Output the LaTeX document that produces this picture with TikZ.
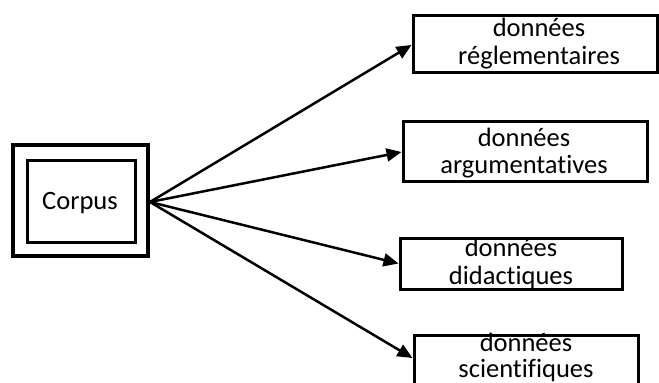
\documentclass[tikz,border=0pt]{standalone}
\usepackage{fontspec}
\setmainfont[Ligatures=NoCommon]{Carlito}
\usetikzlibrary{arrows.meta}
\begin{document}
\begin{tikzpicture}[x=1pt,y=-1pt,
  box/.style={draw=black,line width=3pt,rectangle,inner sep=0pt},
  lbl/.style={anchor=base,inner sep=0pt,font=\fontsize{26.5}{26.5}\selectfont},
  conn/.style={line width=2.5pt,-{Triangle[length=15pt,width=13pt]}}]
\useasboundingbox (0,0) rectangle (659,383);
\clip (0,0) rectangle (659,383);
% Corpus
\node[box,line width=3.5pt,minimum width=135pt,minimum height=111pt] (outer) at (80.5,200.5) {};
\node[box,minimum width=108pt,minimum height=82pt] (inner) at (81,201) {};
\node[lbl] (tc) at (80,209) {Corpus};
% boxes
\node[box,minimum width=244pt,minimum height=57pt] (b1) at (535,43.5) {};
\node[box,minimum width=244pt,minimum height=60pt] (b2) at (525,151) {};
\node[box,minimum width=222pt,minimum height=51pt] (b3) at (511,263.5) {};
\node[box,minimum width=224pt,minimum height=57pt] (b4) at (526,363.5) {};
% labels
\node[lbl] (t1a) at (539,36) {données};
\node[lbl] (t1b) at (539,64) {réglementaires};
\node[lbl] (t2a) at (524,146) {données};
\node[lbl] (t2b) at (524,173) {argumentatives};
\node[lbl] (t3a) at (511,256) {données};
\node[lbl] (t3b) at (511,284) {didactiques};
\node[lbl] (t4a) at (526,351) {données};
\node[lbl] (t4b) at (526,377) {scientifiques};
% arrows
\coordinate (o) at (150,202);
\draw[conn] (o) -- ([yshift=-1.5pt]b1.west);
\draw[conn] (o) -- ([yshift=-1pt]b2.west);
\draw[conn] (o) -- (b3.west);
\draw[conn] (o) -- ([yshift=5.5pt]b4.west);
\end{tikzpicture}
\end{document}
